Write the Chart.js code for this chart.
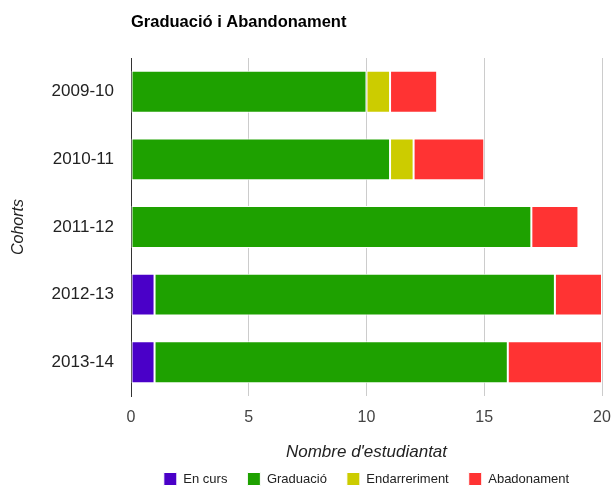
<!DOCTYPE html>
<html>
  <head>
    <title>Graduació i Abandonament</title>
    <script src="https://cdn.jsdelivr.net/npm/chart.js"></script>
    <style>
      body { margin: 0; background: #fff; }
    </style>
  </head>
  <body>
    <canvas id="cohortChart" width="614" height="487"></canvas>

    <script>
      // Data
      var cohorts = ['2009-10', '2010-11', '2011-12', '2012-13', '2013-14'];
      var enCurs = [0, 0, 0, 1, 1];
      var graduacio = [10, 11, 17, 17, 15];
      var endarreriment = [1, 1, 0, 0, 0];
      var abandonament = [2, 3, 2, 2, 4];
      var xTicks = [0, 5, 10, 15, 20];

      var font = "'Liberation Sans', Arial, sans-serif";

      // title drawn over the chart area's left edge, like the original
      var titlePlugin = {
        id: 'leftTitle',
        afterDraw: function (chart) {
          var c = chart.ctx;
          c.save();
          c.font = 'bold 16.5px ' + font;
          c.fillStyle = '#000';
          c.textBaseline = 'middle';
          c.fillText('Graduació i Abandonament', chart.chartArea.left, 22);
          c.restore();
        },
      };

      // legend padding is wide between items, but the box itself stays short
      var legendHeight = {
        id: 'legendHeight',
        afterInit: function (chart) {
          var lg = chart.legend;
          var fit = lg.fit;
          lg.fit = function () {
            fit.call(this);
            this.height = 34.5;
          };
        },
      };

      function ds(label, data, color) {
        return {
          label: label,
          data: data,
          backgroundColor: color,
          borderColor: '#ffffff',
          borderWidth: 1,
          borderSkipped: false,
          barPercentage: 0.62,
          categoryPercentage: 1,
        };
      }

      var ctx = document.getElementById('cohortChart').getContext('2d');
      var chart = new Chart(ctx, {
        type: 'bar',
        data: {
          labels: cohorts,
          datasets: [
            ds('En curs', enCurs, '#4a00c8'),
            ds('Graduació', graduacio, '#1ea100'),
            ds('Endarreriment', endarreriment, '#cccc00'),
            ds('Abadonament', abandonament, '#ff3333'),
          ],
        },
        options: {
          indexAxis: 'y',
          responsive: false,
          animation: false,
          layout: { padding: { top: 58, right: 12, bottom: 0, left: 0 } },
          plugins: {
            tooltip: { enabled: false },
            legend: {
              position: 'bottom',
              fullSize: false,
              labels: {
                boxWidth: 13,
                boxHeight: 13,
                padding: 20,
                color: '#222',
                font: { family: font, size: 13 },
              },
            },
          },
          scales: {
            x: {
              stacked: true,
              min: 0,
              max: 20,
              afterBuildTicks: function (axis) {
                axis.ticks = xTicks.map(function (v) { return { value: v }; });
              },
              afterFit: function (axis) {
                axis.height = 56.5;
                axis.paddingRight = 0;
                axis.paddingLeft = 0;
              },
              grid: {
                color: function (c) { return c.tick && c.tick.value === 0 ? '#333' : '#cccccc'; },
                drawTicks: false,
              },
              border: { display: false },
              ticks: {
                padding: 12,
                color: '#444',
                font: { family: font, size: 16 },
              },
              title: {
                display: true,
                text: "Nombre d'estudiantat",
                color: '#222',
                font: { family: font, size: 17, style: 'italic' },
                padding: { top: 0, bottom: -10 },
              },
            },
            y: {
              stacked: true,
              afterFit: function (axis) { axis.width = 131; },
              grid: { display: false, drawTicks: false },
              border: { display: true, color: '#333', width: 1 },
              ticks: {
                padding: 17,
                color: '#222',
                font: { family: font, size: 17 },
              },
              title: {
                display: true,
                text: 'Cohorts',
                color: '#222',
                font: { family: font, size: 16, style: 'italic' },
                padding: { top: 9, bottom: 0 },
              },
            },
          },
        },
        plugins: [titlePlugin, legendHeight],
      });
    </script>
  </body>
</html>
